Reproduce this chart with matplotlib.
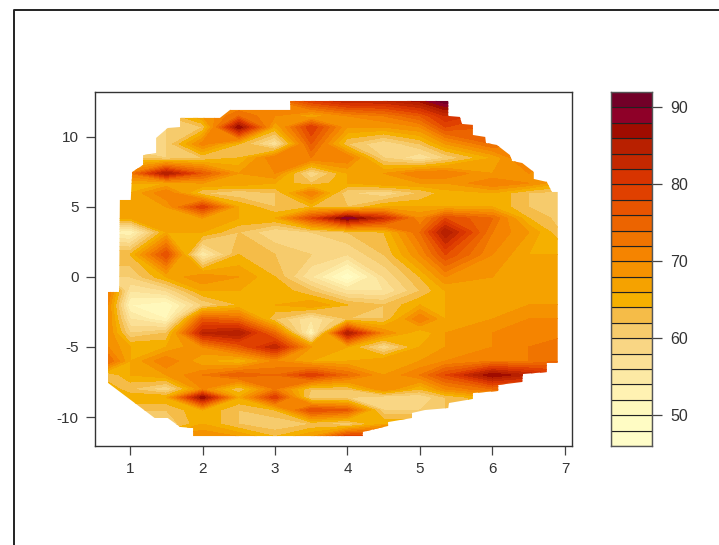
import matplotlib
matplotlib.use("Agg")
import matplotlib.pyplot as plt
from matplotlib.colors import ListedColormap, BoundaryNorm
from matplotlib.lines import Line2D
from matplotlib.patches import Polygon
import numpy as np

plt.rcParams['font.family'] = ['Liberation Sans', 'DejaVu Sans']
plt.rcParams['axes.unicode_minus'] = False

# grid
xs = [0.7, 1.0, 1.5, 2.0, 2.5, 3.0, 3.5, 4.0, 4.5, 5.0, 5.35, 6.0, 6.5, 6.95]
ys = [12.6, 11.5, 10.7, 9.5, 8.5, 7.4, 6.7, 6.0, 5.0, 4.2, 3.2, 1.6, 0.0, -1.0,
      -2.0, -3.0, -4.0, -5.0, -6.0, -7.0, -8.0, -8.6, -9.5, -10.5, -11.4]
z = [
    [66, 66, 66, 66, 68, 72, 80, 84, 84, 87, 92, 85, 75, 70],
    [62, 62, 62, 68, 74, 70, 66, 70, 72, 76, 82, 78, 72, 68],
    [60, 60, 60, 62, 88, 66, 80, 68, 68, 70, 78, 76, 70, 66],
    [58, 58, 60, 71, 64, 56, 76, 62, 58, 62, 68, 74, 72, 68],
    [62, 62, 60, 62, 64, 72, 72, 72, 60, 56, 60, 66, 74, 68],
    [72, 72, 86, 76, 68, 70, 58, 66, 68, 72, 72, 68, 70, 68],
    [66, 66, 66, 68, 68, 66, 62, 66, 68, 68, 68, 72, 70, 66],
    [66, 66, 72, 62, 60, 62, 72, 60, 58, 62, 65, 66, 62, 61],
    [68, 68, 68, 80, 66, 62, 64, 62, 66, 66, 66, 66, 62, 61],
    [66, 66, 68, 68, 66, 66, 78, 90, 82, 70, 78, 74, 64, 61],
    [54, 52, 66, 66, 62, 58, 60, 62, 64, 74, 86, 72, 68, 62],
    [64, 64, 78, 54, 64, 62, 60, 58, 62, 70, 78, 70, 66, 66],
    [60, 60, 66, 70, 68, 64, 56, 48, 58, 64, 70, 68, 67, 67],
    [72, 56, 58, 66, 66, 66, 62, 56, 56, 62, 66, 68, 68, 68],
    [70, 52, 50, 60, 64, 66, 68, 64, 62, 66, 66, 68, 68, 68],
    [70, 56, 52, 76, 74, 62, 56, 62, 62, 72, 66, 68, 70, 70],
    [70, 60, 62, 84, 86, 74, 52, 86, 70, 64, 68, 70, 71, 71],
    [70, 66, 66, 70, 76, 84, 68, 66, 58, 66, 68, 70, 72, 74],
    [74, 66, 72, 66, 64, 70, 66, 66, 68, 68, 70, 72, 72, 74],
    [62, 66, 68, 72, 76, 74, 80, 74, 68, 72, 78, 88, 84, 80],
    [66, 62, 58, 70, 62, 72, 62, 62, 70, 64, 70, 74, 74, 74],
    [66, 66, 66, 88, 66, 80, 60, 60, 58, 58, 62, 66, 70, 70],
    [62, 62, 62, 66, 62, 64, 78, 76, 60, 60, 62, 66, 70, 70],
    [60, 60, 60, 66, 62, 60, 62, 60, 66, 66, 66, 66, 66, 66],
    [68, 68, 68, 70, 68, 64, 68, 80, 80, 80, 80, 80, 80, 80],
]

levels = list(range(46, 94, 2))
band_colors = ['#FFFDC8', '#FFFCC4', '#FFF8BC', '#FFF2B2', '#FCE9A4', '#FBE096',
               '#F9D684', '#F6CB6C', '#F5BC48', '#F5B000', '#F5A200', '#F59200',
               '#F58400', '#F07400', '#EC6400', '#E85400', '#E04000', '#D83400',
               '#C42800', '#B82000', '#A00C00', '#8E0028', '#720028']

# data region outline
hull_x = [0.68, 0.68, 0.85, 0.86, 1.01, 1.03, 1.18, 1.18, 1.36, 1.36, 1.52, 1.69, 1.69,
          2.24, 2.38, 3.21, 3.21, 5.39, 5.39, 5.55, 5.58, 5.73, 5.73, 5.90, 5.91, 6.06,
          6.24, 6.27, 6.41, 6.57, 6.57, 6.75, 6.82, 6.90, 6.90, 6.75, 6.75, 6.42, 6.41,
          6.08, 6.08, 5.73, 5.73, 5.40, 5.39, 5.07, 4.89, 4.89, 4.56, 4.56, 4.21, 4.21,
          1.87, 1.87, 1.69, 1.52, 1.34]
hull_y = [-7.5, -1.07, -1.07, 5.5, 5.5, 7.5, 8.0, 8.7, 8.86, 9.93, 10.64, 10.71, 11.36,
          11.36, 11.93, 11.93, 12.57, 12.57, 11.5, 11.43, 10.93, 10.86, 10.14, 10.0, 9.57, 9.43,
          8.71, 8.29, 8.14, 7.5, 7.0, 6.79, 6.07, 6.07, -6.14, -6.14, -6.79, -6.93, -7.5,
          -7.71, -8.14, -8.29, -8.71, -9.0, -9.36, -9.5, -9.71, -10.07, -10.36, -10.64, -11.07, -11.36,
          -11.36, -10.79, -10.71, -10.07, -10.07]

xticks = [1, 2, 3, 4, 5, 6, 7]
yticks = [-10, -5, 0, 5, 10]
bar_ticks = [50, 60, 70, 80, 90]

W, H = 719, 545
fig = plt.figure(figsize=(W / 100, H / 100), dpi=100)

# plot box
ax = fig.add_axes([95 / W, 1 - 446 / H, (572 - 95) / W, (446 - 92) / H])
cmap = ListedColormap(band_colors)
norm = BoundaryNorm(levels, cmap.N)
cs = ax.contourf(xs, ys, np.array(z), levels=levels, cmap=cmap, norm=norm)
clip = Polygon(list(zip(hull_x, hull_y)), closed=True, transform=ax.transData)
cs.set_clip_path(clip)
ax.set_xlim(0.517, 7.097)
ax.set_ylim(-12.07, 13.21)
ax.set_xticks(xticks)
ax.set_yticks(yticks)
ax.tick_params(length=6.7, width=0.9, color='#444444', labelcolor='#333333', labelsize=11, pad=5)
for s in ax.spines.values():
    s.set_linewidth(1.0)
    s.set_color('#333333')

# colour key
cax = fig.add_axes([611 / W, 1 - 446 / H, (652 - 611) / W, (446 - 92) / H])
cax.bar(0, np.diff(levels), bottom=levels[:-1], width=1, color=band_colors,
        edgecolor='#222222', linewidth=0.8)
cax.set_xlim(-0.5, 0.5)
cax.set_ylim(46, 92)
cax.set_xticks([])
cax.yaxis.tick_right()
cax.set_yticks(bar_ticks)
cax.tick_params(length=7.2, width=0.9, color='#444444', labelcolor='#333333', labelsize=11.5, pad=6)
for s in cax.spines.values():
    s.set_linewidth(1.0)
    s.set_color('#555555')

# outer border of the screenshot
fig.add_artist(Line2D([13.5 / W, 13.5 / W, 1], [0, 1 - 9.5 / H, 1 - 9.5 / H],
                      transform=fig.transFigure, color='#222222', lw=1.4))

fig.savefig('out.png', dpi=100)
